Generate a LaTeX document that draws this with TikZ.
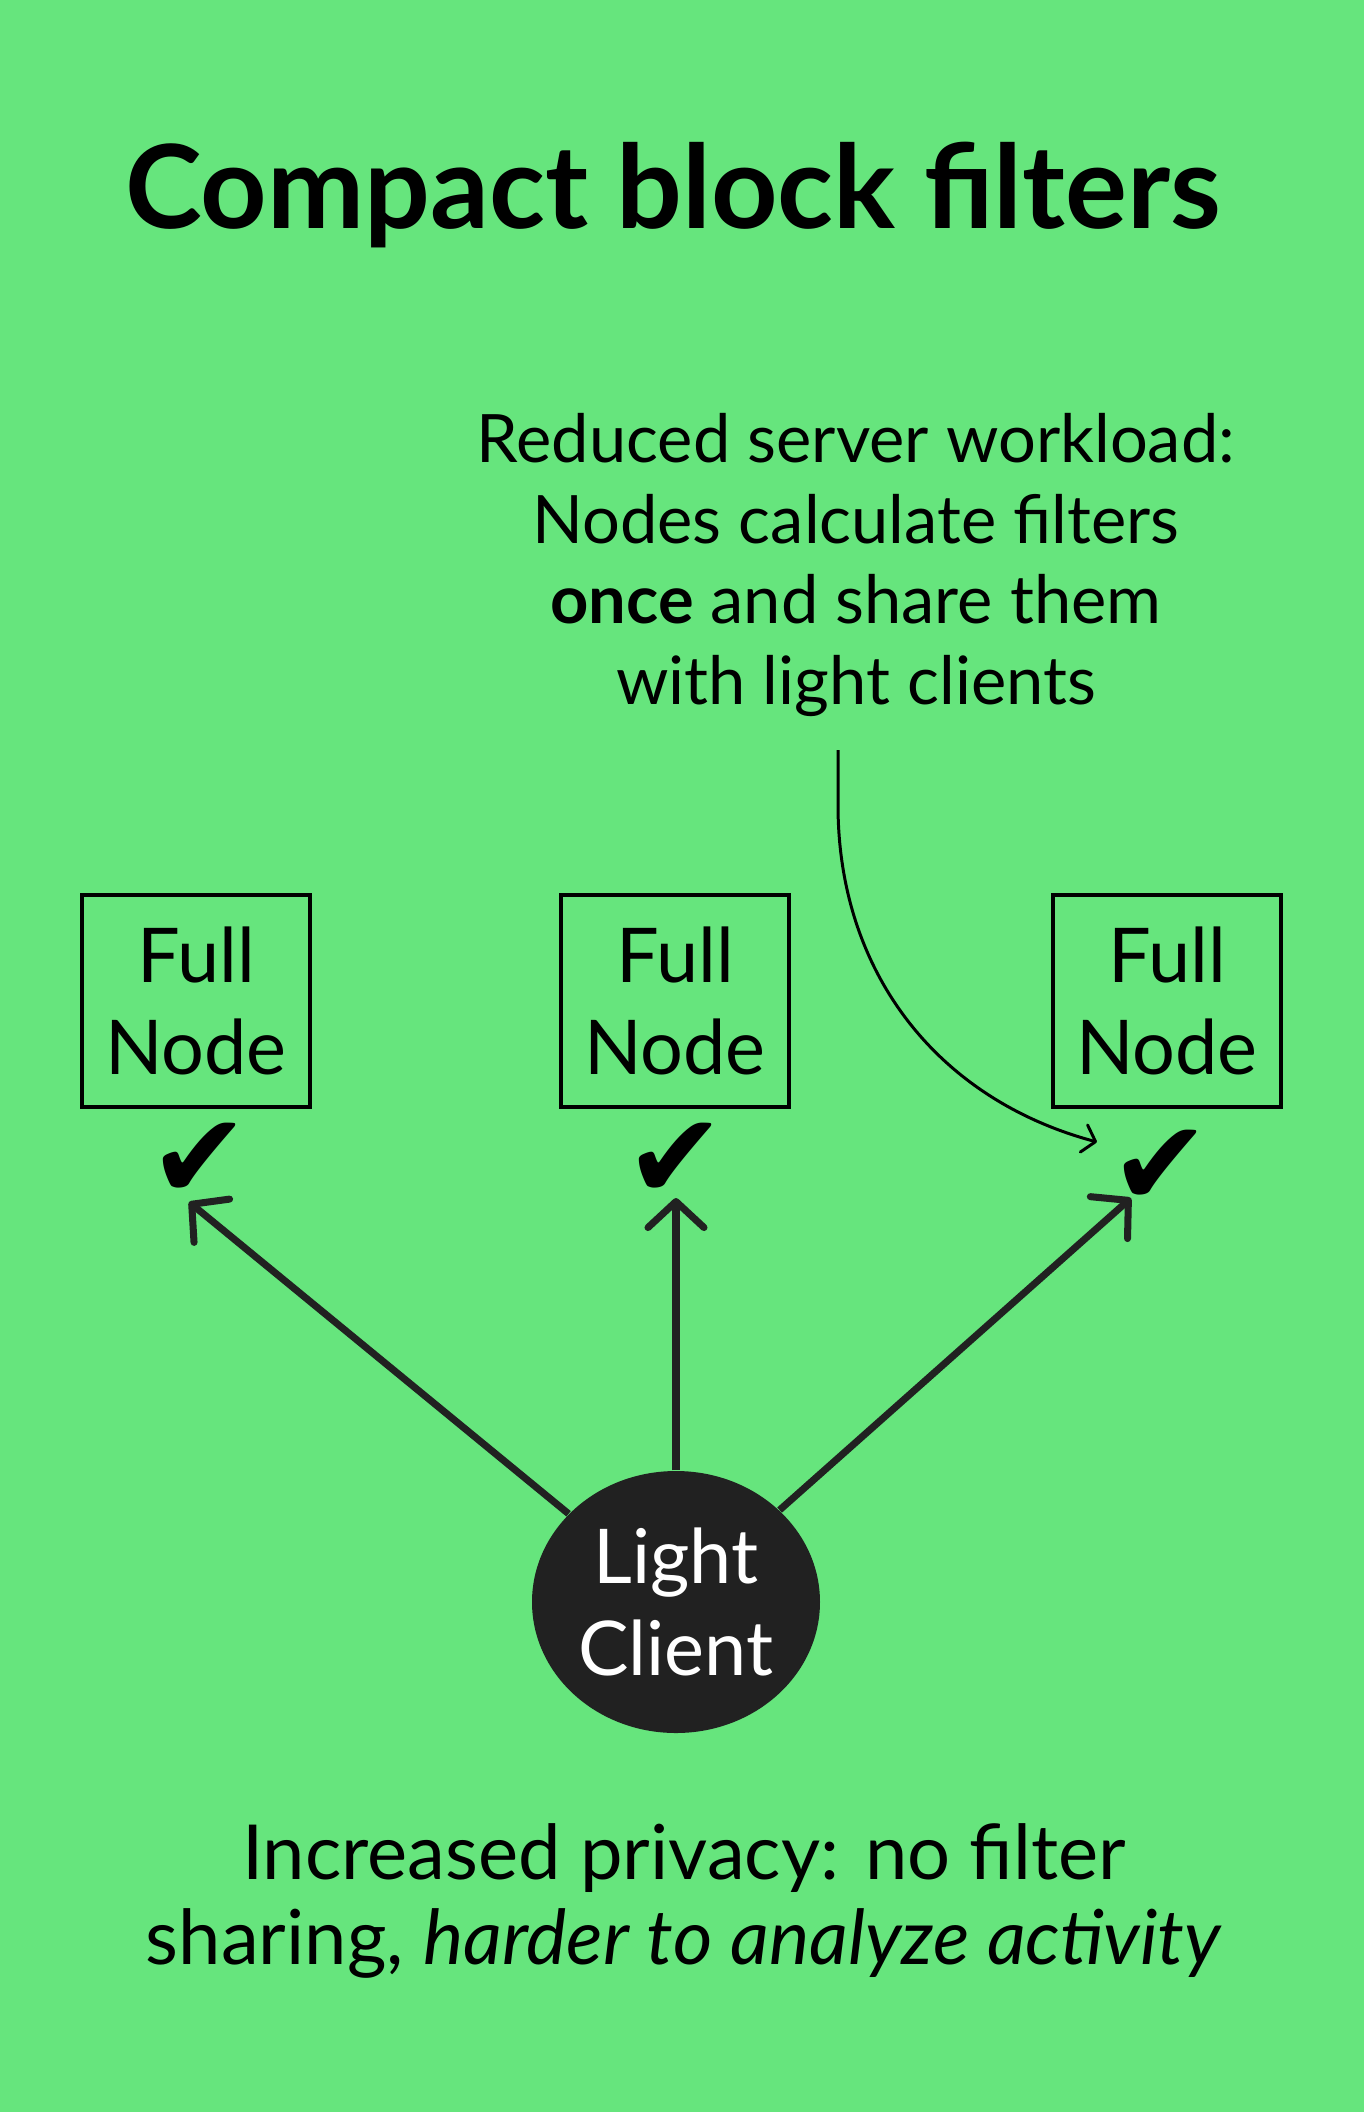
\documentclass[tikz,border=0pt]{standalone}
\usepackage{fontspec}
\setmainfont{Lato}
\newfontfamily\symfont{DejaVu Sans}
\usetikzlibrary{arrows.meta,positioning,shapes.geometric}
\definecolor{filtergreen}{RGB}{102,229,125}
\definecolor{clientdark}{RGB}{33,33,33}

\begin{document}
\begin{tikzpicture}[
    fullnode/.style={draw=black, line width=1pt, minimum width=2.28cm, minimum height=2.12cm, align=center, font=\fontsize{21.5}{26}\selectfont},
    tick/.style={font=\symfont\fontsize{34}{34}\selectfont, inner sep=0pt},
    conn/.style={draw=clientdark, line width=2pt, -{Straight Barb[length=2.6mm,width=5.6mm,round]}},
    thinconn/.style={draw=black, line width=0.85pt, -{Straight Barb[length=1.2mm,width=2.8mm,round]}},
    note/.style={align=center, text=black}
]
    % Background
    \fill[filtergreen] (0,0) rectangle (13.64,-21.12);
    \useasboundingbox (0,0) rectangle (13.64,-21.12);

    % Title
    \node (title) at (6.73,-1.95) {\fontsize{33}{40}\selectfont\bfseries Compact block filters};

    % Server workload note
    \node[note, font=\fontsize{19}{23}\selectfont] (workload) at (8.56,-5.65)
        {Reduced server workload:\\ Nodes calculate filters\\ \textbf{once} and share them\\ with light clients};

    % Full nodes
    \node[fullnode] (fnleft) at (1.96,-10.01) {Full\\Node};
    \node[fullnode] (fnmid) at (6.75,-10.01) {Full\\Node};
    \node[fullnode] (fnright) at (11.67,-10.01) {Full\\Node};

    % Check marks
    \node[tick] (tickleft) at (2.00,-11.61) {✔};
    \node[tick] (tickmid) at (6.76,-11.61) {✔};
    \node[tick] (tickright) at (11.61,-11.68) {✔};

    % Light client
    \node[ellipse, fill=clientdark, text=white, inner sep=0pt, minimum width=2.88cm, minimum height=2.62cm,
        align=center, font=\fontsize{21.5}{26}\selectfont] (client) at (6.76,-16.02) {Light\\Client};

    % Requests to full nodes
    \coordinate (tipleft) at (1.89,-12.02);
    \coordinate (tipmid) at (6.76,-11.98);
    \coordinate (tipright) at (11.31,-11.98);
    \draw[conn] (client) -- (tipleft);
    \draw[conn] (client) -- (tipmid);
    \draw[conn] (client) -- (tipright);

    % Filters shared
    \coordinate (curvestart) at (8.38,-7.50);
    \coordinate (curveend) at (10.97,-11.42);
    \draw[thinconn] (curvestart) -- ++(0,-0.55) to[out=-90,in=165] (curveend);

    % Privacy note
    \node[note, font=\fontsize{21.6}{24.4}\selectfont] (privacy) at (6.84,-19.01)
        {Increased privacy: no filter\\ sharing, \textit{harder to analyze activity}};
\end{tikzpicture}
\end{document}
